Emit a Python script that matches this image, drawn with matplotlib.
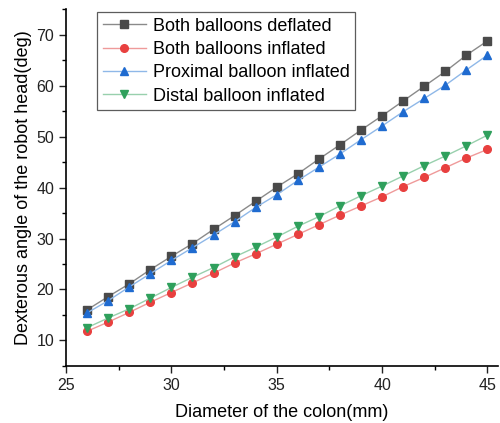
import matplotlib
matplotlib.use("Agg")
import matplotlib.pyplot as plt
from matplotlib.ticker import MultipleLocator

plt.rcParams['font.family'] = ['Liberation Sans', 'DejaVu Sans']

diameter = list(range(26, 46))

both_deflated = [16.0, 18.6, 21.1, 23.9, 26.5, 29.0, 31.8, 34.5, 37.3, 40.1,
                 42.7, 45.6, 48.4, 51.3, 54.1, 57.0, 59.9, 62.8, 66.0, 68.8]
both_inflated = [11.8, 13.6, 15.5, 17.5, 19.4, 21.3, 23.2, 25.2, 27.0, 28.9,
                 30.8, 32.7, 34.6, 36.4, 38.2, 40.2, 42.0, 43.9, 45.8, 47.5]
proximal_inflated = [15.4, 17.8, 20.5, 23.1, 25.7, 28.2, 30.7, 33.3, 36.1, 38.6,
                     41.4, 44.0, 46.6, 49.4, 52.1, 54.9, 57.5, 60.1, 63.1, 66.0]
distal_inflated = [12.5, 14.4, 16.2, 18.3, 20.4, 22.4, 24.3, 26.4, 28.3, 30.3,
                   32.4, 34.3, 36.4, 38.4, 40.3, 42.3, 44.3, 46.2, 48.2, 50.3]

fig = plt.figure(figsize=(5.0, 4.23), dpi=100)
ax = fig.add_axes([0.132, 0.135, 0.864, 0.843])

# (label, values, marker, marker colour, line colour)
series = [
    ("Both balloons deflated", both_deflated, 's', '#4a4a4a', '#8a8a8a'),
    ("Both balloons inflated", both_inflated, 'o', '#e8403f', '#ef9a9a'),
    ("Proximal balloon inflated", proximal_inflated, '^', '#1f6bd0', '#8fb8e8'),
    ("Distal balloon inflated", distal_inflated, 'v', '#2fa05c', '#98d0ad'),
]
for label, vals, mk, mc, lc in series:
    ax.plot(diameter, vals, color=lc, linewidth=1.0, marker=mk, markersize=5.5,
            markerfacecolor=mc, markeredgecolor=mc, label=label)

ax.set_xlim(25, 45.5)
ax.set_ylim(5, 75)
ax.xaxis.set_major_locator(MultipleLocator(5))
ax.xaxis.set_minor_locator(MultipleLocator(2.5))
ax.yaxis.set_major_locator(MultipleLocator(10))
ax.yaxis.set_minor_locator(MultipleLocator(5))
ax.set_yticks([10, 20, 30, 40, 50, 60, 70])

for s in ['top', 'right']:
    ax.spines[s].set_visible(False)
for s in ['left', 'bottom']:
    ax.spines[s].set_linewidth(1.2)

ax.tick_params(axis='both', which='major', direction='out', length=5, width=1.0,
               labelsize=11.5, colors='#222222')
ax.tick_params(axis='both', which='minor', direction='out', length=3, width=1.0)

ax.set_xlabel("Diameter of the colon(mm)", fontsize=13, labelpad=8)
ax.set_ylabel("Dexterous angle of the robot head(deg)", fontsize=13, labelpad=3)

leg = ax.legend(loc='upper left', bbox_to_anchor=(0.072, 0.992), fontsize=13,
                frameon=True, fancybox=False, edgecolor='#333333',
                handlelength=2.4, borderpad=0.3, labelspacing=0.35,
                handletextpad=0.4, borderaxespad=0.0)
leg.get_frame().set_linewidth(0.9)

fig.savefig('out.png', dpi=100)
plt.close(fig)
